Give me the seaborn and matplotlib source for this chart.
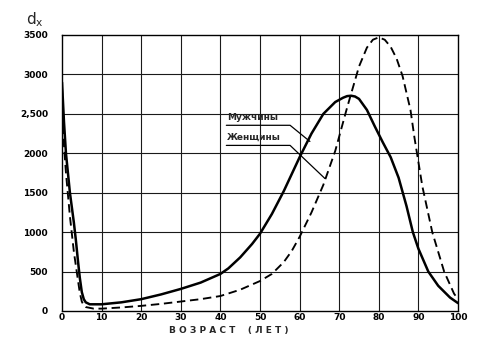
import matplotlib
matplotlib.use("Agg")
import matplotlib.pyplot as plt
import seaborn as sns
import pandas as pd

# Number of deaths d_x by age, per sex
ages_men = [0, 0.5, 1, 2, 3, 3.5, 4, 4.5, 5, 5.5, 6, 7, 10, 15, 20, 25, 30, 35, 40,
            42, 45, 48, 50, 53, 56, 60, 63, 66, 69, 71, 72, 73, 74, 75, 77, 79, 81,
            83, 85, 87, 88.6, 90, 92.5, 95, 98, 100]
dx_men = [2900, 2400, 2000, 1500, 1120, 900, 650, 420, 240, 150, 110, 85, 85, 110,
          150, 210, 280, 360, 470, 540, 680, 850, 980, 1230, 1520, 1950, 2250,
          2500, 2650, 2705, 2725, 2730, 2720, 2690, 2550, 2340, 2140, 1950, 1690,
          1330, 1000, 790, 500, 320, 170, 100]

ages_women = [0, 0.5, 1, 2, 3, 4, 4.5, 5, 5.5, 6, 8, 10, 15, 20, 25, 30, 35, 40, 45,
              50, 53, 56, 58, 60, 63, 66, 69, 72, 75, 77, 78.5, 80, 81.5, 83, 84.5,
              86, 88, 89, 91, 93.5, 96.5, 99, 100]
dx_women = [2850, 2100, 1750, 1200, 750, 400, 230, 120, 70, 50, 30, 30, 45, 65, 90,
            120, 150, 190, 270, 380, 470, 620, 760, 940, 1250, 1600, 2030, 2580,
            3100, 3340, 3440, 3470, 3440, 3350, 3200, 2980, 2550, 2200, 1580, 1000,
            500, 220, 150]

sex_labels = ["Мужчины", "Женщины"]
x_ticks = [0, 10, 20, 30, 40, 50, 60, 70, 80, 90, 100]
y_ticks = [0, 500, 1000, 1500, 2000, 2500, 3000, 3500]
y_tick_labels = ["0", "500", "1000", "1500", "2000", "2,500", "3000", "3500"]

df = pd.concat([
    pd.DataFrame({"age": ages_men, "dx": dx_men, "sex": sex_labels[0]}),
    pd.DataFrame({"age": ages_women, "dx": dx_women, "sex": sex_labels[1]}),
], ignore_index=True)

sns.set_style("white")
plt.rcParams["font.family"] = ["DejaVu Sans"]

fig = plt.figure(figsize=(4.89, 3.40), dpi=100)
ax = fig.add_axes([62 / 489, 1 - 311 / 340, (458 - 62) / 489, (311 - 35) / 340])

# grid drawn under the curves
for x in x_ticks[1:-1]:
    ax.axvline(x, color="#1a1a1a", lw=0.8, zorder=1)
for y in y_ticks[1:-1]:
    ax.axhline(y, color="#1a1a1a", lw=0.8, zorder=1)

sns.lineplot(data=df, x="age", y="dx", hue="sex", style="sex",
             palette={sex_labels[0]: "black", sex_labels[1]: "black"},
             dashes={sex_labels[0]: "", sex_labels[1]: (4.5, 2.5)},
             sort=False, legend=False, ax=ax, zorder=3)
lines = ax.get_lines()
lines[-2].set_linewidth(1.8)
lines[-2].set_solid_joinstyle("round")
lines[-1].set_linewidth(1.35)

ax.set_xlim(0, 100)
ax.set_ylim(0, 3500)
ax.set_xticks(x_ticks)
ax.set_xticklabels([str(t) for t in x_ticks])
ax.set_yticks(y_ticks)
ax.set_yticklabels(y_tick_labels)
ax.tick_params(axis="both", length=0, labelsize=6.5, colors="black")
ax.tick_params(axis="y", pad=10)
ax.tick_params(axis="x", pad=1.5)
for lab in ax.get_xticklabels() + ax.get_yticklabels():
    lab.set_fontweight("bold")

for side in ["left", "bottom", "right", "top"]:
    ax.spines[side].set_visible(True)
    ax.spines[side].set_color("black")
    ax.spines[side].set_linewidth(1.0)

ax.set_xlabel("В О З Р А С Т    ( Л Е Т )", fontsize=6.5, fontweight="bold",
              labelpad=3)
ax.xaxis.set_label_coords(0.42, -0.055)
ax.set_ylabel("")

# axis title d_x above the value scale
ax.text(-0.09, 1.02, r"d$_\mathregular{x}$", transform=ax.transAxes,
        fontsize=11, ha="left", va="bottom")

# labels with underline and leader to each curve
ax.text(41.7, 2400, sex_labels[0], fontsize=6.5, fontweight="bold",
        ha="left", va="bottom")
ax.plot([41.5, 57.6, 62.6], [2355, 2355, 2150], color="black", lw=0.9, zorder=4)
ax.text(41.7, 2145, sex_labels[1], fontsize=6.5, fontweight="bold",
        ha="left", va="bottom")
ax.plot([41.5, 57.6, 66.4], [2100, 2100, 1680], color="black", lw=0.9, zorder=4)

fig.savefig("out.png", dpi=100)
